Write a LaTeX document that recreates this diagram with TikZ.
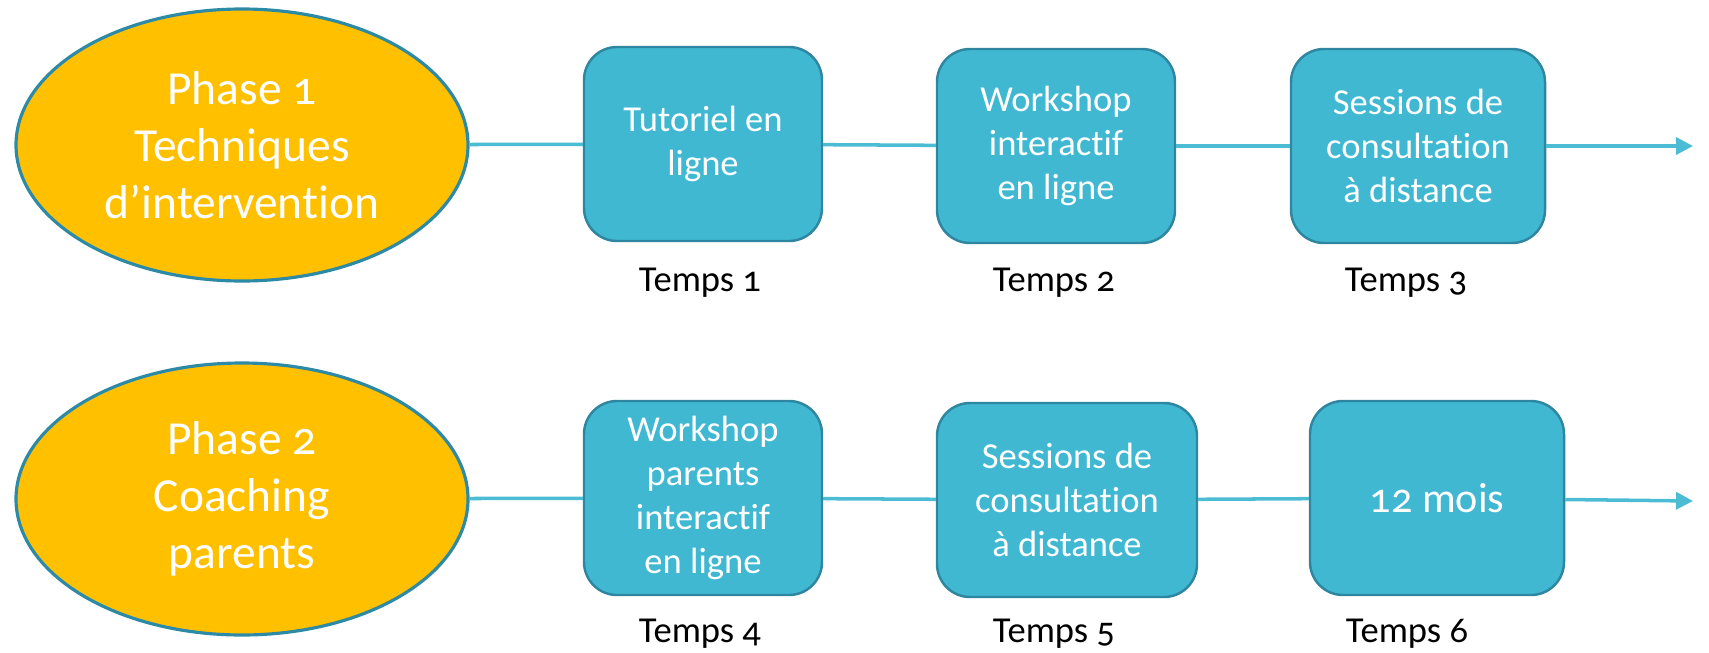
\documentclass[tikz,border=0pt]{standalone}
\usepackage{fontspec}
\setmainfont[Numbers=OldStyle, Ligatures=NoCommon]{Carlito}
\usetikzlibrary{arrows.meta,shapes.geometric,positioning}
\definecolor{phasefill}{HTML}{FFC000}
\definecolor{phaseline}{HTML}{2D8AA6}
\definecolor{boxfill}{HTML}{41B8D2}
\definecolor{boxline}{HTML}{2E86A0}
\definecolor{flowline}{HTML}{4BBCD4}
\begin{document}
\begin{tikzpicture}[
        phase/.style={ellipse, draw=phaseline, line width=0.9pt, fill=phasefill, minimum width=4.52cm, minimum height=2.72cm, align=center, text=white, font=\fontsize{13.5}{16.2}\selectfont},
        box/.style={rectangle, draw=boxline, line width=0.7pt, rounded corners=0.33cm, fill=boxfill, minimum height=1.94cm, align=center, text=white, font=\fontsize{10.4}{12.5}\selectfont},
        temps/.style={font=\fontsize{10.4}{12.5}\selectfont},
        flow/.style={draw=flowline, line width=1pt},
        arrow/.style={flow, -{Triangle[length=0.17cm, width=0.17cm]}}
    ]
        \useasboundingbox (0,0) rectangle (17.09,-6.52);

        % Phase 1
        \node[phase] (phase1) at (2.42,-1.45) {Phase 1\\Techniques\\d'intervention};
        \node[box, minimum width=2.38cm] (t1) at (7.03,-1.44) {Tutoriel en\\ligne};
        \node[box, minimum width=2.38cm] (t2) at (10.56,-1.46) {Workshop\\interactif\\en ligne};
        \node[box, minimum width=2.54cm] (t3) at (14.18,-1.46) {Sessions de\\consultation\\à distance};
        \coordinate (end1) at (16.93,-1.46);

        \node[temps] (l1) at (7.00,-2.83) {Temps 1};
        \node[temps] (l2) at (10.54,-2.83) {Temps 2};
        \node[temps] (l3) at (14.06,-2.83) {Temps 3};

        % Phase 2
        \node[phase] (phase2) at (2.42,-4.99) {Phase 2\\Coaching\\parents};
        \node[box, minimum width=2.38cm] (t4) at (7.03,-4.98) {Workshop\\parents\\interactif\\en ligne};
        \node[box, minimum width=2.60cm] (t5) at (10.67,-5.00) {Sessions de\\consultation\\à distance};
        \node[box, minimum width=2.54cm, font=\fontsize{12}{14}\selectfont] (t6) at (14.37,-4.98) {12 mois};
        \coordinate (end2) at (16.93,-5.01);

        \node[temps] (l4) at (7.00,-6.34) {Temps 4};
        \node[temps] (l5) at (10.54,-6.34) {Temps 5};
        \node[temps] (l6) at (14.07,-6.34) {Temps 6};

        \draw[flow] (phase1) -- (t1);
        \draw[flow] (t1) -- (t2);
        \draw[flow] (t2) -- (t3);
        \draw[arrow] (t3) -- (end1);

        \draw[flow] (phase2) -- (t4);
        \draw[flow] (t4) -- (t5);
        \draw[flow] (t5) -- (t6);
        \draw[arrow] (t6) -- (end2);
    \end{tikzpicture}
\end{document}
